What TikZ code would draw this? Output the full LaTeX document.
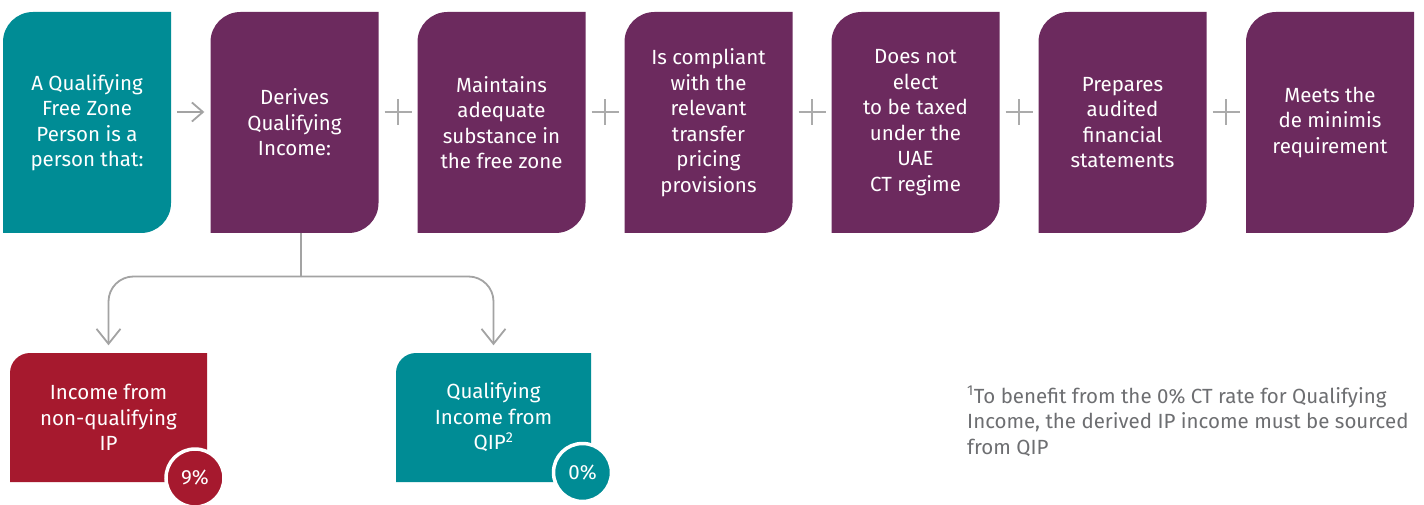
\documentclass[tikz,border=0pt]{standalone}
\usepackage{fontspec}
\setmainfont{Fira Sans}
\usetikzlibrary{arrows.meta,calc}

\definecolor{qteal}{HTML}{008C95}
\definecolor{qplum}{HTML}{6C2A5E}
\definecolor{qred}{HTML}{A6192E}
\definecolor{qline}{HTML}{A3A3A3}
\definecolor{qplus}{HTML}{ABABAB}
\definecolor{qnote}{HTML}{6D6E71}

\newcommand\cardfont{\fontsize{20.5}{25.5}\selectfont}

\tikzset{
  % tall card: top-left and bottom-right corners rounded
  card/.style={minimum width=168pt, minimum height=221pt, inner sep=0pt,
    text=white, align=center, font=\cardfont,
    path picture={\fill[#1]
      ([yshift=-30pt]path picture bounding box.north west)
      -- (path picture bounding box.south west)
      -- ([xshift=-30pt]path picture bounding box.south east)
      arc[start angle=270, end angle=360, radius=30pt]
      -- (path picture bounding box.north east)
      -- ([xshift=30pt]path picture bounding box.north west)
      arc[start angle=90, end angle=180, radius=30pt] -- cycle;}},
  % outcome card: only the top-left corner rounded
  outcome/.style={minimum height=129pt, inner sep=0pt,
    text=white, align=center, font=\cardfont,
    path picture={\fill[#1]
      ([yshift=-20pt]path picture bounding box.north west)
      -- (path picture bounding box.south west)
      -- (path picture bounding box.south east)
      -- (path picture bounding box.north east)
      -- ([xshift=20pt]path picture bounding box.north west)
      arc[start angle=90, end angle=180, radius=20pt] -- cycle;}},
  rate/.style={circle, fill=#1, draw=white, line width=3.5pt,
    minimum size=58pt, inner sep=0pt, text=white, font=\cardfont},
  link/.style={draw=qline, line width=1.8pt},
  arr/.style={link, -{Straight Barb[length=11pt, width=19pt]}},
  downarr/.style={link, rounded corners=25pt,
    -{Straight Barb[length=15pt, width=24pt]}},
  plussign/.style={draw=qplus, line width=1.6pt},
}

\begin{document}
\begin{tikzpicture}[x=1pt, y=-1pt]
  \useasboundingbox[fill=white] (0,0) rectangle (1424,505);

  % row of conditions
  \node[card=qteal] (q)  at (87,122.5)   {A Qualifying\\Free Zone\\Person is a\\person that:};
  \node[card=qplum] (c1) at (294.5,122.5) {Derives\\Qualifying\\Income:};
  \node[card=qplum] (c2) at (501.5,122.5) {Maintains\\adequate\\substance in\\the free zone};
  \node[card=qplum] (c3) at (708.5,122.5) {Is compliant\\with the\\relevant\\transfer\\pricing\\provisions};
  \node[card=qplum] (c4) at (915.5,122.5) {Does not\\elect\\to be taxed\\under the\\UAE\\CT regime};
  \node[card=qplum] (c5) at (1122.5,122.5) {Prepares\\audited\\financial\\statements};
  \node[card=qplum] (c6) at (1330,122.5) {Meets the\\de minimis\\requirement};

  % arrow from the definition to the first condition
  \draw[arr, shorten <=6pt, shorten >=6pt]
    ([yshift=10.5pt]q.east) -- ([yshift=10.5pt]c1.west);

  % plus signs between the conditions
  \foreach \a/\b in {c1/c2, c2/c3, c3/c4, c4/c5, c5/c6} {
    \coordinate (m) at ($(\a.east)!0.5!(\b.west)+(0,-10.5)$);
    \draw[plussign] ([xshift=-13.5pt]m) -- ([xshift=13.5pt]m)
                    ([yshift=-13pt]m) -- ([yshift=13pt]m);
  }

  % outcomes of the income test
  \node[outcome=qred,  minimum width=197pt] (nq) at (108.5,417.5) {Income from\\non-qualifying\\IP};
  \node[outcome=qteal, minimum width=195pt] (qi) at (493.5,417.5) {Qualifying\\Income from\\QIP\textsuperscript{2}};
  \node[rate=qred]  (r9) at (195,478)    {9\%};
  \node[rate=qteal] (r0) at (582.5,472.5) {0\%};

  % split below the income condition
  \coordinate (split) at (301,276.5);
  \draw[link] (split |- c1.south) -- (split);
  \draw[downarr, shorten >=7.5pt] (split) -| (nq.north);
  \draw[downarr, shorten >=7.5pt] (split) -| (qi.north);

  % footnote
  \node[anchor=north west, align=left, text=qnote, font=\cardfont, inner sep=0pt]
    (note) at (967,386)
    {\textsuperscript{1}To benefit from the 0\% CT rate for Qualifying\\
     Income, the derived IP income must be sourced\\
     from QIP};
\end{tikzpicture}
\end{document}
